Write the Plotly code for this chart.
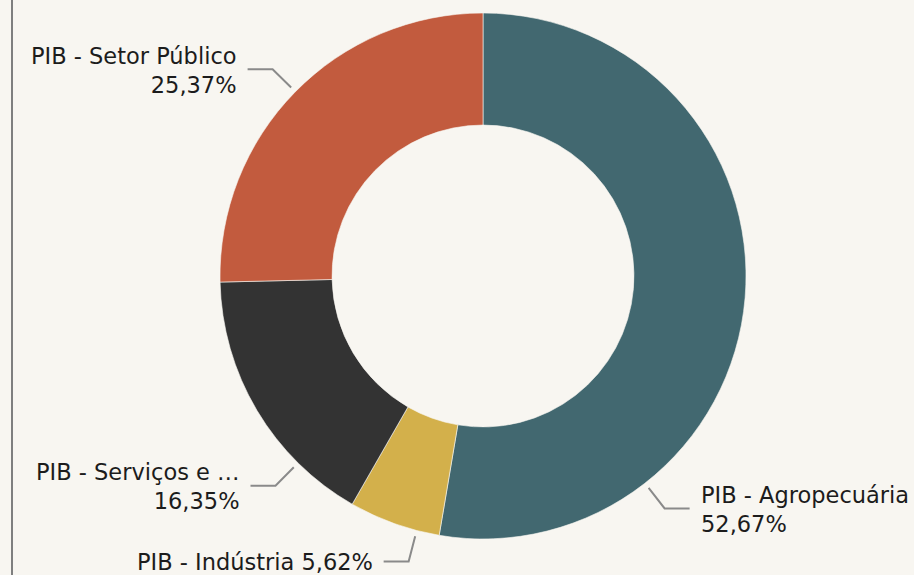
import math
import plotly.graph_objects as go

# Participação no PIB por setor (%)
categories = ["PIB - Agropecuária", "PIB - Indústria", "PIB - Serviços e …", "PIB - Setor Público"]
values = [52.67, 5.62, 16.35, 25.37]
colors = ["#426870", "#d3b04b", "#333333", "#c25b3e"]

# Label layout: angle (deg, clockwise from 12 o'clock) of each leader line,
# and whether the percentage goes on its own line
label_angles = [142.0, 194.6, 224.7, 314.5]
label_breaks = ["<br>", " ", "<br>", "<br>"]

W, H = 914, 575
CX, CY, R = 483, 276, 263
HOLE = 0.574
BG = "#f8f6f1"
FONT = "DejaVu Sans, Verdana, sans-serif"

fig = go.Figure()

fig.add_trace(go.Pie(
    labels=categories,
    values=values,
    sort=False,
    direction="clockwise",
    rotation=0,
    hole=HOLE,
    textinfo="none",
    marker=dict(colors=colors, line=dict(color=BG, width=0.6)),
    domain=dict(x=[(CX - R) / W, (CX + R) / W], y=[1 - (CY + R) / H, 1 - (CY - R) / H]),
    showlegend=False,
))

annotations = []
for name, val, ang, br in zip(categories, values, label_angles, label_breaks):
    a = math.radians(ang)
    ux, uy = math.sin(a), -math.cos(a)
    x0, y0 = CX + (R + 6) * ux, CY + (R + 6) * uy
    x1, y1 = CX + (R + 32) * ux, CY + (R + 32) * uy
    side = 1 if ux >= 0 else -1
    x2 = x1 + side * 25
    fig.add_trace(go.Scatter(
        x=[x0, x1, x2], y=[y0, y1, y1], mode="lines",
        line=dict(color="#8a8a8a", width=2), hoverinfo="skip", showlegend=False,
    ))
    pct = f"{val:.2f}".replace(".", ",") + "%"
    annotations.append(dict(
        x=x2 + side * 9, y=y1 + 1, xref="x", yref="y",
        text=f"{name}{br}{pct}", showarrow=False,
        xanchor="left" if side > 0 else "right", yanchor="middle",
        align="left" if side > 0 else "right",
        font=dict(family=FONT, size=22.5, color="#1c1c1c"),
    ))

fig.update_layout(
    width=W, height=H,
    margin=dict(l=0, r=0, t=0, b=0, pad=0),
    paper_bgcolor=BG, plot_bgcolor=BG,
    xaxis=dict(range=[0, W], visible=False, fixedrange=True),
    yaxis=dict(range=[H, 0], visible=False, fixedrange=True),
    annotations=annotations,
    shapes=[dict(type="line", xref="x", yref="y", x0=12, x1=12, y0=0, y1=H,
                 line=dict(color="#7f7f7f", width=2))],
)

fig.write_html("out.html")
